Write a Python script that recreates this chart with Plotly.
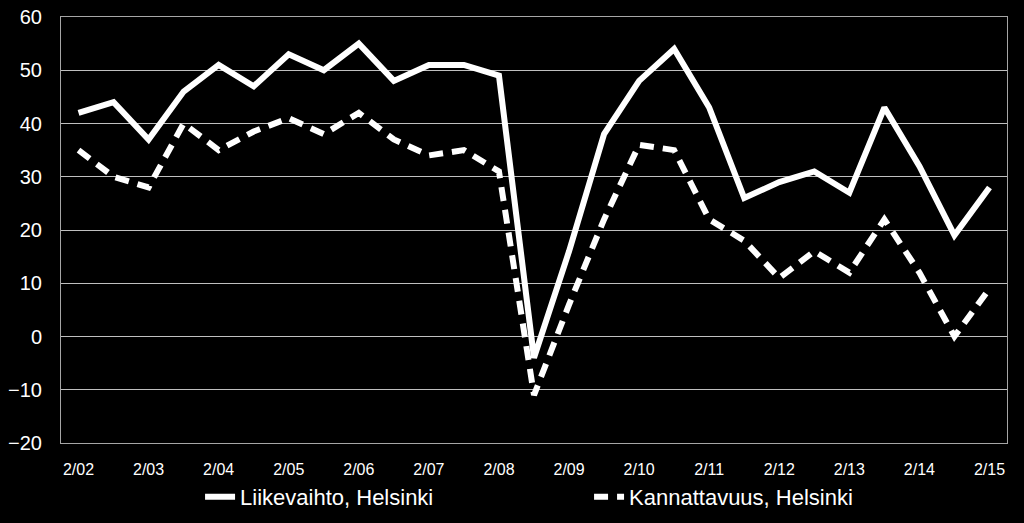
import plotly.graph_objects as go

# half-year periods 2/02 ... 2/15
periods = ['2/02', '8/02', '2/03', '8/03', '2/04', '8/04', '2/05', '8/05', '2/06', '8/06',
           '2/07', '8/07', '2/08', '8/08', '2/09', '8/09', '2/10', '8/10', '2/11', '8/11',
           '2/12', '8/12', '2/13', '8/13', '2/14', '8/14', '2/15']
liikevaihto = [42, 44, 37, 46, 51, 47, 53, 50, 55, 48, 51, 51, 49, -4, 16, 38, 48, 54,
               43, 26, 29, 31, 27, 43, 32, 19, 28]
kannattavuus = [35, 30, 28, 40, 35, 38.5, 41, 38, 42, 37, 34, 35, 31, -11, 6, 22, 36, 35,
                22, 18, 11, 16, 12, 22, 12, 0, 9]

tick_labels = [p for p in periods if p.startswith('2/')]
tick_idx = [i for i, p in enumerate(periods) if p.startswith('2/')]
x = list(range(len(periods)))

fig = go.Figure()
fig.add_trace(go.Scatter(
    x=x, y=liikevaihto, name='Liikevaihto, Helsinki', mode='lines',
    line=dict(color='white', width=6)
))
fig.add_trace(go.Scatter(
    x=x, y=kannattavuus, name='Kannattavuus, Helsinki', mode='lines',
    line=dict(color='white', width=6, dash='14px,9px')
))

fig.update_layout(
    width=1024, height=523,
    paper_bgcolor='black', plot_bgcolor='black',
    margin=dict(l=61, r=17, t=17, b=80),
    font=dict(family='Liberation Sans', color='white'),
    showlegend=True,
    legend=dict(orientation='h', x=0.147, xanchor='left',
                yref='container', y=0.05, yanchor='middle',
                font=dict(size=22, color='white'), entrywidth=344,
                bgcolor='rgba(0,0,0,0)'),
)
fig.update_xaxes(
    range=[-0.5, len(periods) - 0.5], tickmode='array', tickvals=tick_idx, ticktext=tick_labels,
    showgrid=False, showline=True, linecolor='#a6a6a6', linewidth=1, mirror=True,
    ticks='outside', ticklen=12, tickcolor='black', tickfont=dict(size=16, color='white'),
    zeroline=False, automargin=False
)
fig.update_yaxes(
    range=[-20, 60], dtick=10, showgrid=True, gridcolor='#bfbfbf', gridwidth=1,
    showline=True, linecolor='#a6a6a6', linewidth=1, mirror=True,
    ticks='outside', ticklen=14, tickcolor='black', tickfont=dict(size=20, color='white'),
    zeroline=False, automargin=False
)

fig.write_html("out.html", config={'displayModeBar': False},
               post_script="document.body.style.margin='0';")
